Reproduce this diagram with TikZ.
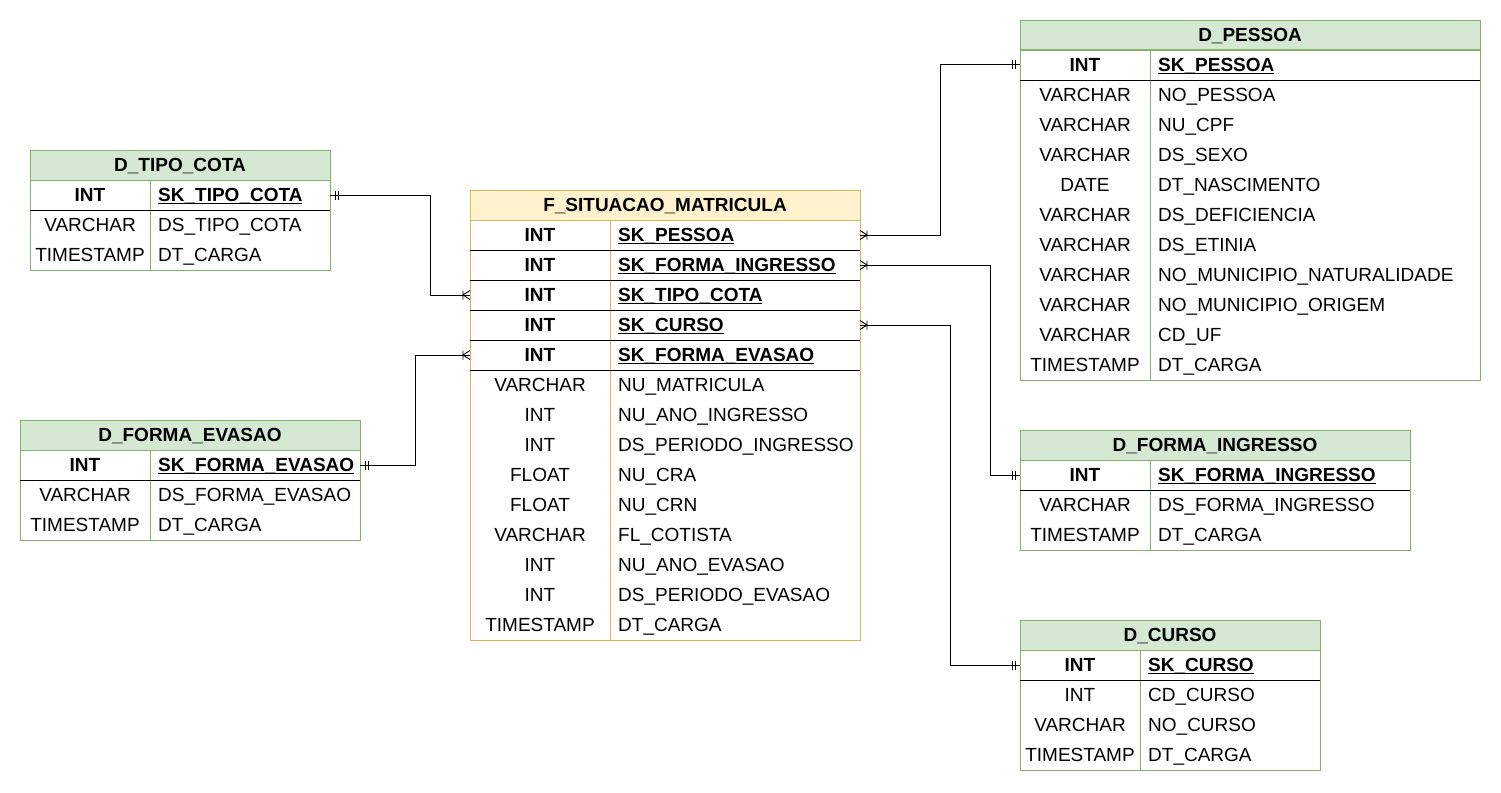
\documentclass[tikz,border=0pt]{standalone}
\usepackage{fontspec}
\setmainfont{Liberation Sans}
\definecolor{gfill}{HTML}{D5E8D4}
\definecolor{gline}{HTML}{82B366}
\definecolor{yfill}{HTML}{FFF2CC}
\definecolor{yline}{HTML}{D6B656}
\newcommand\kt[1]{\textbf{#1}}
\newcommand\kf[1]{\setbox0\hbox{\bfseries #1}\rlap{\rule[-2.6pt]{\wd0}{1.5pt}}\box0}
\tikzset{
  cell/.style={inner sep=0pt, text height=13.6pt, text depth=0pt, anchor=center},
  fieldcell/.style={cell, anchor=west},
  titlecell/.style={cell, font=\fontsize{19}{22}\selectfont\bfseries},
  sepline/.style={black, line width=1pt},
  rel/.style={black, line width=1pt},
  ermark/.style={black, line width=0.9pt},
}
% frame: name, x, y, width, divider, nrows, nkeys, colour prefix, title
\newcommand\erframe[9]{%
  \pgfmathsetmacro\xr{#2+#4}%
  \pgfmathsetmacro\yb{#3+30+30*#6}%
  \node[draw=#8line, fill=#8fill, line width=1pt, minimum width=#4pt, minimum height=30pt, anchor=north west, inner sep=0pt] (#1) at (#2,#3) {};
  \node[titlecell] (#1-title) at (#2+#4/2,#3+15) {#9};
  \draw[#8line, line width=1pt] (#2,#3+30) rectangle (\xr,\yb);
  \draw[#8line, line width=1pt] (#2+#5,#3+30) -- (#2+#5,\yb);
  \foreach \k in {1,...,#7} {
    \draw[sepline] (#2,#3+30+30*\k) -- (\xr,#3+30+30*\k);
    \coordinate (#1-L\k) at (#2,#3+15+30*\k);
    \coordinate (#1-R\k) at (\xr,#3+15+30*\k);
  }
}
% rows: name, x, y, divider, list
\newcommand\errows[5]{%
  \foreach \t/\f [count=\i] in {#5} {
    \node[cell] (#1-t\i) at (#2+#4/2,#3+15+30*\i) {\t};
    \node[fieldcell] (#1-f\i) at (#2+#4+8,#3+15+30*\i) {\f};
  }
}
\newcommand\mandone[2]{%
  \begin{scope}[shift={(#1)}, xscale=#2]
    \draw[ermark] (5,-4.5) -- (5,4.5) (8,-4.5) -- (8,4.5);
  \end{scope}}
\newcommand\crowmany[2]{%
  \begin{scope}[shift={(#1)}, xscale=#2]
    \draw[ermark] (0,-4.5) -- (7,0) -- (0,4.5) (7,-4.5) -- (7,4.5);
  \end{scope}}
\begin{document}
\begin{tikzpicture}[x=1pt, y=-1pt, font=\fontsize{19}{22}\selectfont]
\useasboundingbox (0,0) rectangle (1501,792);
\fill[white] (0,0) rectangle (1501,792);

% fact table
\erframe{F}{470}{190}{390}{140}{14}{5}{y}{F\_SITUACAO\_MATRICULA}
\errows{F}{470}{190}{140}{\kt{INT}/\kf{SK\_PESSOA}, \kt{INT}/\kf{SK\_FORMA\_INGRESSO}, \kt{INT}/\kf{SK\_TIPO\_COTA}, \kt{INT}/\kf{SK\_CURSO}, \kt{INT}/\kf{SK\_FORMA\_EVASAO}, VARCHAR/NU\_MATRICULA, INT/NU\_ANO\_INGRESSO, INT/DS\_PERIODO\_INGRESSO, FLOAT/NU\_CRA, FLOAT/NU\_CRN, VARCHAR/FL\_COTISTA, INT/NU\_ANO\_EVASAO, INT/DS\_PERIODO\_EVASAO, TIMESTAMP/DT\_CARGA}

% D_PESSOA
\erframe{P}{1020}{20}{460}{130}{11}{1}{g}{D\_PESSOA}
\errows{P}{1020}{20}{130}{\kt{INT}/\kf{SK\_PESSOA}, VARCHAR/NO\_PESSOA, VARCHAR/NU\_CPF, VARCHAR/DS\_SEXO, DATE/DT\_NASCIMENTO, VARCHAR/DS\_DEFICIENCIA, VARCHAR/DS\_ETINIA, VARCHAR/NO\_MUNICIPIO\_NATURALIDADE, VARCHAR/NO\_MUNICIPIO\_ORIGEM, VARCHAR/CD\_UF, TIMESTAMP/DT\_CARGA}

% D_TIPO_COTA
\erframe{TC}{30}{150}{300}{120}{3}{1}{g}{D\_TIPO\_COTA}
\errows{TC}{30}{150}{120}{\kt{INT}/\kf{SK\_TIPO\_COTA}, VARCHAR/DS\_TIPO\_COTA, TIMESTAMP/DT\_CARGA}

% D_FORMA_EVASAO
\erframe{FE}{20}{420}{340}{130}{3}{1}{g}{D\_FORMA\_EVASAO}
\errows{FE}{20}{420}{130}{\kt{INT}/\kf{SK\_FORMA\_EVASAO}, VARCHAR/DS\_FORMA\_EVASAO, TIMESTAMP/DT\_CARGA}

% D_FORMA_INGRESSO
\erframe{FI}{1020}{430}{390}{130}{3}{1}{g}{D\_FORMA\_INGRESSO}
\errows{FI}{1020}{430}{130}{\kt{INT}/\kf{SK\_FORMA\_INGRESSO}, VARCHAR/DS\_FORMA\_INGRESSO, TIMESTAMP/DT\_CARGA}

% D_CURSO
\erframe{C}{1020}{620}{300}{120}{4}{1}{g}{D\_CURSO}
\errows{C}{1020}{620}{120}{\kt{INT}/\kf{SK\_CURSO}, INT/CD\_CURSO, VARCHAR/NO\_CURSO, TIMESTAMP/DT\_CARGA}

% relationships
\draw[rel] (TC-R1) -- ++(100,0) |- (F-L3);
\mandone{TC-R1}{1}\crowmany{F-L3}{-1}
\draw[rel] (FE-R1) -- ++(55,0) |- (F-L5);
\mandone{FE-R1}{1}\crowmany{F-L5}{-1}
\draw[rel] (P-L1) -- ++(-80,0) |- (F-R1);
\mandone{P-L1}{-1}\crowmany{F-R1}{1}
\draw[rel] (FI-L1) -- ++(-30,0) |- (F-R2);
\mandone{FI-L1}{-1}\crowmany{F-R2}{1}
\draw[rel] (C-L1) -- ++(-70,0) |- (F-R4);
\mandone{C-L1}{-1}\crowmany{F-R4}{1}
\end{tikzpicture}
\end{document}
